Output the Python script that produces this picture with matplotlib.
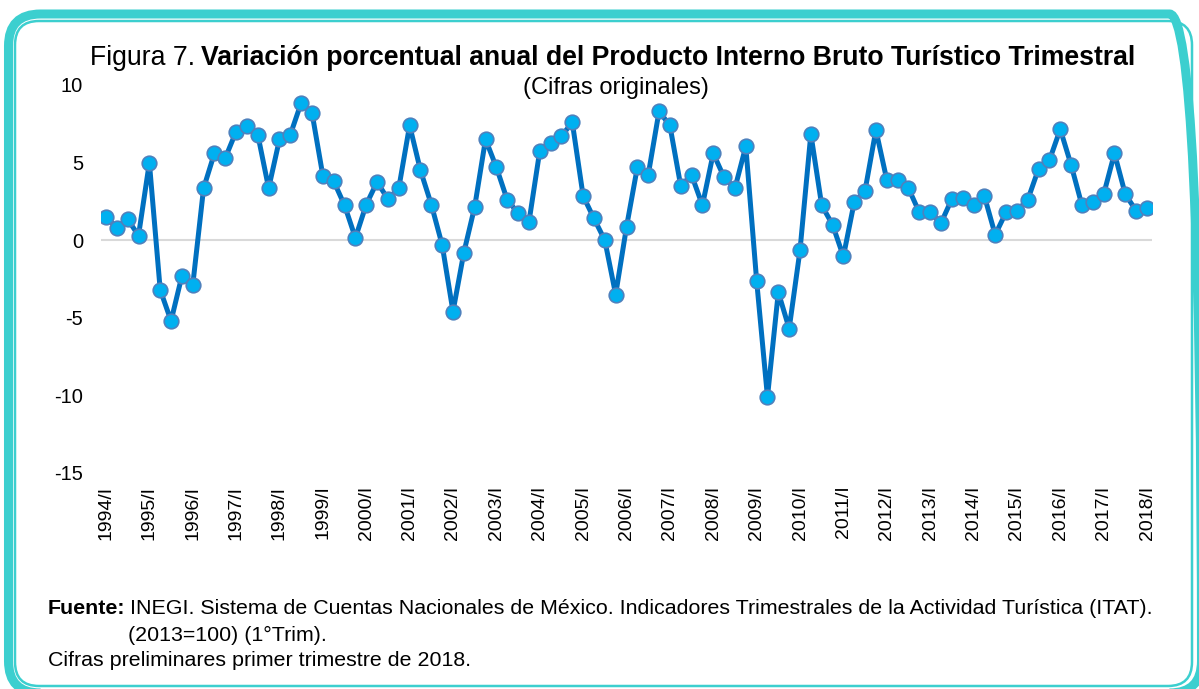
import matplotlib
matplotlib.use('Agg')
import matplotlib.pyplot as plt
from matplotlib.patches import FancyBboxPatch
from matplotlib.transforms import IdentityTransform
import numpy as np

plt.rcParams['font.family'] = ['Liberation Sans', 'DejaVu Sans']
plt.rcParams['axes.unicode_minus'] = False

# periodos trimestrales 1994/I - 2018/I
years = list(range(1994, 2019))
quarters = ['I', 'II', 'III', 'IV']
periods = [f'{y}/{q}' for y in years for q in quarters][:97]

# variacion porcentual anual del PIB turistico
pib_turistico = [
    1.5, 0.8, 1.35, 0.3,      # 1994
    5.0, -3.2, -5.2, -2.3,    # 1995
    -2.9, 3.35, 5.6, 5.3,     # 1996
    7.0, 7.35, 6.8, 3.35,     # 1997
    6.5, 6.8, 8.85, 8.2,      # 1998
    4.15, 3.8, 2.25, 0.15,    # 1999
    2.3, 3.75, 2.65, 3.35,    # 2000
    7.4, 4.5, 2.3, -0.3,      # 2001
    -4.6, -0.8, 2.15, 6.5,    # 2002
    4.7, 2.6, 1.75, 1.15,     # 2003
    5.75, 6.25, 6.7, 7.6,     # 2004
    2.85, 1.4, 0.0, -3.5,     # 2005
    0.85, 4.7, 4.2, 8.3,      # 2006
    7.4, 3.5, 4.2, 2.25,      # 2007
    5.6, 4.05, 3.35, 6.05,    # 2008
    -2.6, -10.1, -3.35, -5.7, # 2009
    -0.65, 6.85, 2.25, 1.0,   # 2010
    -1.05, 2.45, 3.2, 7.1,    # 2011
    3.9, 3.85, 3.35, 1.8,     # 2012
    1.8, 1.1, 2.65, 2.75,     # 2013
    2.25, 2.85, 0.35, 1.8,    # 2014
    1.9, 2.6, 4.6, 5.15,      # 2015
    7.15, 4.85, 2.25, 2.45,   # 2016
    2.95, 5.6, 2.95, 1.9,     # 2017
    2.1,                      # 2018
]

W, H = 1199, 689
fig = plt.figure(figsize=(W / 100, H / 100), dpi=100)

# marco redondeado doble
teal = '#3ccfcf'
outer = FancyBboxPatch((8.5, -4), 1193, 679, boxstyle='round,pad=0,rounding_size=32',
                       transform=IdentityTransform(), fill=False, ec=teal, lw=6.5)
inner = FancyBboxPatch((15, 3), 1177, 665, boxstyle='round,pad=0,rounding_size=24',
                       transform=IdentityTransform(), fill=False, ec=teal, lw=1.8)
fig.add_artist(outer)
fig.add_artist(inner)

ax = fig.add_axes([101 / W, 1 - 473 / H, (1152 - 101) / W, (473 - 85) / H])
x = np.arange(len(pib_turistico))
ax.axhline(0, color='#d9d9d9', lw=1.5, zorder=1)
ax.plot(x, pib_turistico, color='#0070c0', lw=3.6, marker='o', ms=10.5,
        mfc='#00b0f0', mec='#4f81bd', mew=1.2, zorder=3)
ax.set_xlim(-0.46, 96.46)
ax.set_ylim(-15, 10)
ax.set_yticks([-15, -10, -5, 0, 5, 10])
ax.set_xticks(x[::4])
ax.set_xticklabels(periods[::4], rotation=90)
for s in ax.spines.values():
    s.set_visible(False)
ax.tick_params(length=0)
ax.tick_params(axis='y', pad=13, labelsize=14.5)
ax.tick_params(axis='x', pad=9, labelsize=14)

# titulo con parte en negrita
fig.canvas.draw()
r = fig.canvas.get_renderer()
t1 = fig.text(90 / W, 1 - 58 / H, 'Figura 7.', fontsize=19.2, va='center')
w1 = t1.get_window_extent(r).width
fig.text((90 + w1 + 6) / W, 1 - 58 / H,
         'Variación porcentual anual del Producto Interno Bruto Turístico Trimestral',
         fontsize=19.2, fontweight='bold', va='center')
fig.text(616 / W, 1 - 88 / H, '(Cifras originales)', fontsize=17,
         ha='center', va='center')

# fuente
f1 = fig.text(48 / W, 1 - 609 / H, 'Fuente:', fontsize=15.4, fontweight='bold', va='center')
wf = f1.get_window_extent(r).width
fig.text((48 + wf + 5) / W, 1 - 609 / H,
         'INEGI. Sistema de Cuentas Nacionales de México. Indicadores Trimestrales '
         'de la Actividad Turística (ITAT).', fontsize=15.4, va='center')
fig.text(128 / W, 1 - 635 / H, '(2013=100) (1°Trim).', fontsize=15.4, va='center')
fig.text(48 / W, 1 - 660 / H, 'Cifras preliminares primer trimestre de 2018.',
         fontsize=15.4, va='center')

fig.savefig('out.png', dpi=100)
